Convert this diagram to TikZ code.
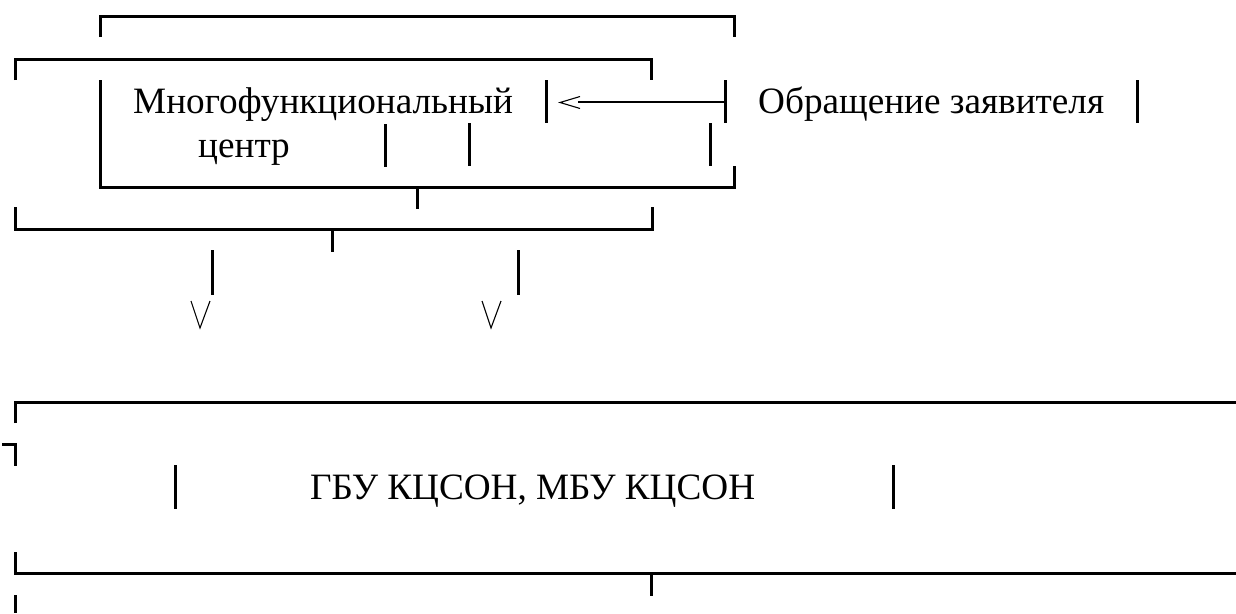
\documentclass[tikz,border=0pt]{standalone}
\usepackage{fontspec}
\setmainfont{Liberation Serif}
\begin{document}
\begin{tikzpicture}[x=1pt,y=-1pt,
  ln/.style={line width=3pt},
  thinln/.style={line width=1.1pt, line join=miter},
  arrln/.style={line width=1.8pt},
  lbl/.style={anchor=base west, inner sep=0pt, font=\fontsize{37.2}{40}\selectfont}]
\useasboundingbox (0,0) rectangle (1236,613);
% texts
\node[lbl] (mfc1) at (133,113) {Многофункциональный};
\node[lbl] (mfc2) at (198,157) {центр};
\node[lbl] (obr) at (758,113) {Обращение заявителя};
\node[lbl] (gbu) at (310,499) {ГБУ КЦСОН, МБУ КЦСОН};
% top brackets
\draw[ln] (100,37) -- (100,16) -- (734,16) -- (734,37);
\draw[ln] (15,80) -- (15,59) -- (651,59) -- (651,80);
\draw[ln] (100,80) -- (100,187) -- (734,187) -- (734,166);
\draw[ln] (546,80) -- (546,123);
\draw[ln] (725,80) -- (725,123);
\draw[arrln] (578,102) -- (725,102);
\draw[thinln] (580,96.5) -- (560,102.5) -- (580,108.5);
\draw[ln] (385,124) -- (385,167);
\draw[ln] (469,123) -- (469,166);
\draw[ln] (710,123) -- (710,166);
\draw[ln] (1137,80) -- (1137,123);
% lower part of top block
\draw[ln] (417,187) -- (417,209);
\draw[ln] (15,207) -- (15,229) -- (652,229) -- (652,207);
\draw[ln] (332,229) -- (332,252);
\draw[ln] (212,250) -- (212,295);
\draw[ln] (518,250) -- (518,295);
\draw[thinln] (191,301) -- (200,328) -- (210,301);
\draw[thinln] (482,301) -- (491,328) -- (501,301);
% bottom block
\draw[ln] (15,423) -- (15,402) -- (1236,402);
\draw[ln] (2,444) -- (15,444) -- (15,466);
\draw[ln] (175,465) -- (175,509);
\draw[ln] (893,465) -- (893,509);
\draw[ln] (15,552) -- (15,573) -- (1236,573);
\draw[ln] (651,573) -- (651,596);
\draw[ln] (15,595) -- (15,613);
\end{tikzpicture}
\end{document}
